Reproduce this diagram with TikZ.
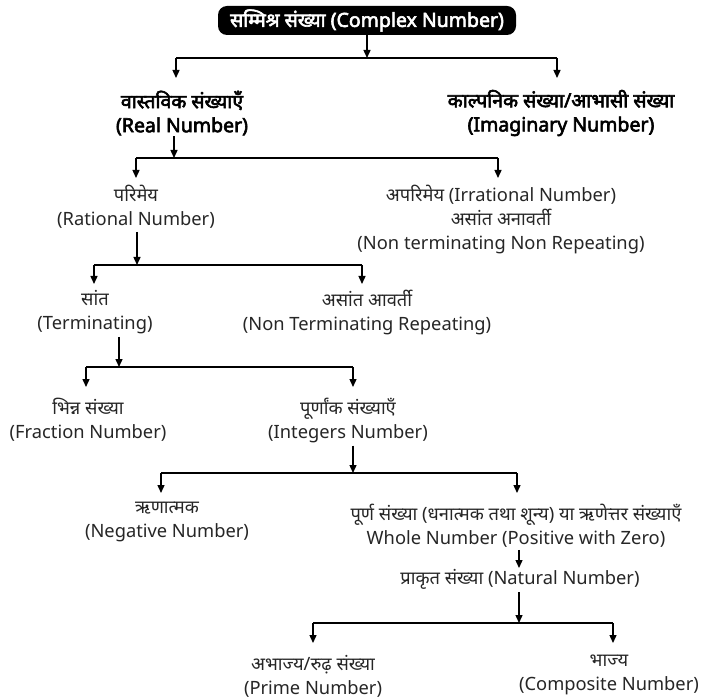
\documentclass[tikz,border=0pt]{standalone}
\usepackage{fontspec}
\setmainfont[Script=Devanagari]{Noto Sans}
\newfontfamily\notobold[Script=Devanagari,FakeBold=3]{Noto Sans}
\usetikzlibrary{arrows.meta}
\begin{document}
\begin{tikzpicture}[x=1pt,y=1pt,
  lbl/.style={align=center,font=\fontsize{18.3}{24}\selectfont,inner sep=0pt,text=black!85},
  blbl/.style={align=center,font=\notobold\fontsize{19.5}{24}\selectfont,inner sep=0pt},
  ln/.style={line width=1.4pt},
  arr/.style={ln,-{Triangle[length=8pt,width=7pt]}}]
\useasboundingbox (0,0) rectangle (717,-700);
\fill[white] (0,0) rectangle (717,-700);

% nodes
\node[fill=black,text=white,rounded corners=9pt,minimum width=298pt,minimum height=29pt,
      font=\notobold\fontsize{19.5}{22}\selectfont,inner sep=0pt] (cplx) at (367,-20.5)
      {सम्मिश्र संख्या (Complex Number)};
\node[blbl] (real) at (182,-113) {वास्तविक संख्याएँ\\(Real Number)};
\node[blbl] (imag) at (561,-113) {काल्पनिक संख्या/आभासी संख्या\\(Imaginary Number)};
\node[lbl] (rat) at (136,-207) {परिमेय\\(Rational Number)};
\node[lbl] (irr) at (501,-219) {अपरिमेय (Irrational Number)\\असांत अनावर्ती\\(Non terminating Non Repeating)};
\node[lbl] (term) at (95,-312) {सांत\\(Terminating)};
\node[lbl] (ntr) at (367,-312) {असांत आवर्ती\\(Non Terminating Repeating)};
\node[lbl] (frac) at (88,-420) {भिन्न संख्या\\(Fraction Number)};
\node[lbl] (integ) at (348,-420) {पूर्णांक संख्याएँ\\(Integers Number)};
\node[lbl] (neg) at (167,-522) {ऋणात्मक\\(Negative Number)};
\node[lbl] (whole) at (516,-526) {पूर्ण संख्या (धनात्मक तथा शून्य) या ऋणेत्तर संख्याएँ\\Whole Number (Positive with Zero)};
\node[lbl] (nat) at (520,-579) {प्राकृत संख्या (Natural Number)};
\node[lbl] (prime) at (313,-676) {अभाज्य/रुढ़ संख्या\\(Prime Number)};
\node[lbl] (comp) at (609,-675) {भाज्य\\(Composite Number)};

% junctions
\coordinate (j1) at (367,-58);   \coordinate (j1l) at (176,-58);  \coordinate (j1r) at (557,-58);
\coordinate (t1l) at (176,-78);  \coordinate (t1r) at (557,-78);
\coordinate (j2) at (174,-158);  \coordinate (j2l) at (136,-158); \coordinate (j2r) at (498,-158);
\coordinate (t2l) at (136,-178); \coordinate (t2r) at (498,-178);
\coordinate (j3) at (137,-265);  \coordinate (j3l) at (94,-265);  \coordinate (j3r) at (362,-265);
\coordinate (t3l) at (94,-284);  \coordinate (t3r) at (362,-284);
\coordinate (j4) at (119,-367);  \coordinate (j4l) at (86,-367);  \coordinate (j4r) at (353,-367);
\coordinate (t4l) at (86,-387);  \coordinate (t4r) at (353,-387);
\coordinate (j5) at (353,-473);  \coordinate (j5l) at (161,-473); \coordinate (j5r) at (517,-473);
\coordinate (t5l) at (161,-493); \coordinate (t5r) at (517,-493);
\coordinate (j6) at (519,-623);  \coordinate (j6l) at (313,-623); \coordinate (j6r) at (613,-623);
\coordinate (t6l) at (313,-643); \coordinate (t6r) at (613,-643);
\coordinate (wn) at (519,-568);

% connectors
\draw[arr] (cplx.south -| j1) -- (j1);
\draw[ln] (j1l) -- (j1r);
\draw[arr] (j1l) -- (t1l);
\draw[arr] (j1r) -- (t1r);

\draw[arr] ([yshift=-1pt]real.south -| j2) -- (j2);
\draw[ln] (j2l) -- (j2r);
\draw[arr] (j2l) -- (t2l);
\draw[arr] (j2r) -- (t2r);

\draw[arr] ([yshift=-3pt]rat.south -| j3) -- (j3);
\draw[ln] (j3l) -- (j3r);
\draw[arr] (j3l) -- (t3l);
\draw[arr] (j3r) -- (t3r);

\draw[arr] ([yshift=-3pt]term.south -| j4) -- (j4);
\draw[ln] (j4l) -- (j4r);
\draw[arr] (j4l) -- (t4l);
\draw[arr] (j4r) -- (t4r);

\draw[arr] ([yshift=-3pt]integ.south -| j5) -- (j5);
\draw[ln] (j5l) -- (j5r);
\draw[arr] (j5l) -- (t5l);
\draw[arr] (j5r) -- (t5r);

\draw[arr] ([yshift=-2pt]whole.south -| wn) -- (wn);

\draw[arr] ([yshift=-3pt]nat.south -| j6) -- (j6);
\draw[ln] (j6l) -- (j6r);
\draw[arr] (j6l) -- (t6l);
\draw[arr] (j6r) -- (t6r);
\end{tikzpicture}
\end{document}
